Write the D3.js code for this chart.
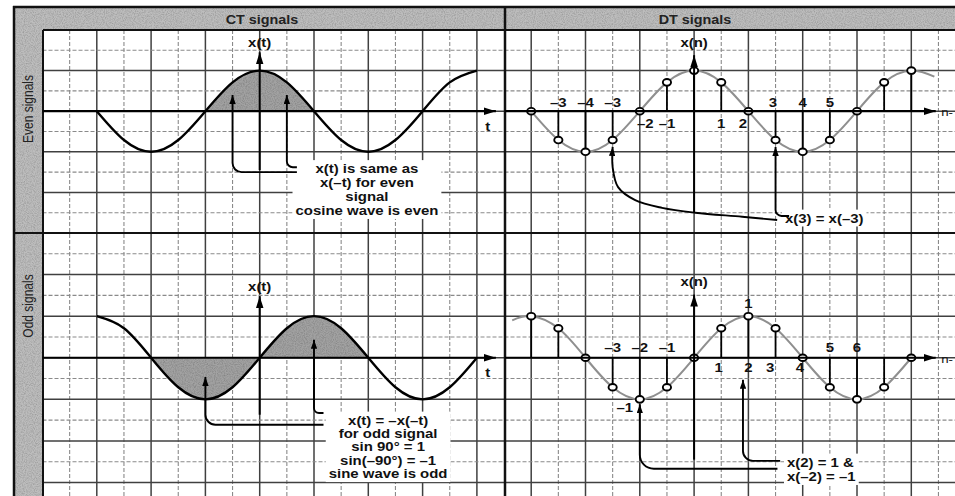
<!DOCTYPE html>
<html>
<head>
<meta charset="utf-8">
<script src="https://cdn.jsdelivr.net/npm/d3@7"></script>
<style>
  body { margin: 0; background: #fff; }
  svg { display: block; font-family: "Liberation Sans", Arial, sans-serif; }
</style>
</head>
<body>
<script>
// Even / odd signals, CT and DT

const panelTitles = ["CT signals", "DT signals"];
const rowTitles = ["Even signals", "Odd signals"];

// samples read at every grid column
const ctT    = [-6, -5, -4, -3, -2, -1, 0, 1, 2, 3, 4, 5, 6, 7, 8];
const ctEven = [0, -0.71, -1, -0.71, 0, 0.71, 1, 0.71, 0, -0.71, -1, -0.71, 0, 0.71, 1];
const ctOdd  = [1, 0.71, 0, -0.71, -1, -0.71, 0, 0.71, 1, 0.71, 0, -0.71, -1, -0.71, 0];
const ctEvenShade = [-2, 2];
const ctOddShade  = [-4, 4];

const dtN    = [-6, -5, -4, -3, -2, -1, 0, 1, 2, 3, 4, 5, 6, 7, 8];
const dtEven = [0, -0.71, -1, -0.71, 0, 0.71, 1, 0.71, 0, -0.71, -1, -0.71, 0, 0.71, 1];
const dtOdd  = [1, 0.71, 0, -0.71, -1, -0.71, 0, 0.71, 1, 0.71, 0, -0.71, -1, -0.71, 0];

// grey envelope curves behind the samples
const dtEvenEnvN = [-6, -5, -4, -3, -2, -1, 0, 1, 2, 3, 4, 5, 6, 7, 8, 8.85];
const dtEvenEnv  = [0, -0.71, -1, -0.71, 0, 0.71, 1, 0.71, 0, -0.71, -1, -0.71, 0, 0.71, 1, 0.85];
const dtOddEnvN  = [-6.7, -6, -5, -4, -3, -2, -1, 0, 1, 2, 3, 4, 5, 6, 7, 8];
const dtOddEnv   = [0.9, 1, 0.71, 0, -0.71, -1, -0.71, 0, 0.71, 1, 0.71, 0, -0.71, -1, -0.71, 0];

// tick labels as printed
const dtEvenLabelN    = [-5, -4, -3, -1.8, -1, 1, 1.8, 2.9, 4, 5];
const dtEvenLabelText = ["\u20133", "\u20134", "\u20133", "\u20132", "\u20131", "1", "2", "3", "4", "5"];
const dtOddLabelN     = [-3, -2, -1, 0.9, 2, 2.8, 3.9, 5, 6];
const dtOddLabelText  = ["\u20133", "\u20132", "\u20131", "1", "2", "3", "4", "5", "6"];

const ctEvenNotes = ["x(t) is same as", "x(\u2013t) for even", "signal", "cosine wave is even"];
const ctOddNotes  = ["x(t) = \u2013x(\u2013t)", "for odd signal", "sin 90\u00b0 = 1", "sin(\u201390\u00b0) = \u20131", "sine wave is odd"];
const dtEvenNotes = ["x(3) = x(\u20133)"];
const dtOddNotes  = ["x(2) = 1 &", "x(\u20132) = \u20131"];

const W = 955, H = 496;
const colW = 27.15, gridLeft = 42.5;
const divX = 505;

const xCT = d3.scaleLinear().domain([-8, 0]).range([gridLeft, gridLeft + 8 * colW]);
const xDT = d3.scaleLinear().domain([-7, 0]).range([gridLeft + 17 * colW, gridLeft + 24 * colW]);
const yTop = d3.scaleLinear().domain([2, -3]).range([30, 233]);
const yBot = d3.scaleLinear().domain([3, -3]).range([233, 482.5]);

const svg = d3.select("body").append("svg")
    .attr("width", W)
    .attr("height", H);

const defs = svg.append("defs");

// grainy grey like the scan
const grain = defs.append("filter").attr("id", "grain")
    .attr("x", 0).attr("y", 0).attr("width", 1).attr("height", 1);
grain.append("feTurbulence").attr("type", "fractalNoise")
    .attr("baseFrequency", 0.9).attr("numOctaves", 2).attr("seed", 3).attr("result", "noise");
grain.append("feColorMatrix").attr("in", "noise").attr("type", "matrix")
    .attr("values", "0.7 0 0 0 0.55  0.7 0 0 0 0.55  0.7 0 0 0 0.55  0 0 0 0 1")
    .attr("result", "gnoise");
grain.append("feBlend").attr("in", "SourceGraphic").attr("in2", "gnoise")
    .attr("mode", "multiply").attr("result", "mix");
grain.append("feComposite").attr("in", "mix").attr("in2", "SourceGraphic").attr("operator", "in");

function arrowMarker(id, len, half) {
  defs.append("marker")
      .attr("id", id)
      .attr("markerUnits", "userSpaceOnUse")
      .attr("viewBox", `0 ${-half} ${len} ${half * 2}`)
      .attr("refX", len).attr("refY", 0)
      .attr("markerWidth", len).attr("markerHeight", half * 2)
      .attr("orient", "auto")
    .append("path")
      .attr("d", `M0,${-half}L${len},0L0,${half}Z`)
      .attr("fill", "#000");
}
arrowMarker("axisHead", 12, 3.8);
arrowMarker("noteHead", 9, 3.2);

// ---- grid ----
const grid = svg.append("g");
const cols = d3.range(1, 34).filter(k => k !== 17);
grid.selectAll(".vline")
    .data(cols)
    .join("line")
    .attr("class", "vline")
    .attr("x1", k => gridLeft + k * colW)
    .attr("x2", k => gridLeft + k * colW)
    .attr("y1", 30).attr("y2", H)
    .attr("stroke", k => k % 2 ? "#8a8a8a" : "#404040")
    .attr("stroke-width", k => k % 2 ? 1.1 : 1.5)
    .attr("stroke-dasharray", k => k % 2 ? "4,2" : null);

const topRows = d3.range(1.5, -2.75, -0.5);
const botRows = d3.range(2.5, -3.75, -0.5);
const hRows = topRows.map(v => ({y: yTop(v), major: Number.isInteger(v)}))
    .concat(botRows.map(v => ({y: yBot(v), major: Number.isInteger(v)})));
grid.selectAll(".hline")
    .data(hRows)
    .join("line")
    .attr("class", "hline")
    .attr("x1", gridLeft).attr("x2", W)
    .attr("y1", d => d.y).attr("y2", d => d.y)
    .attr("stroke", d => d.major ? "#404040" : "#8a8a8a")
    .attr("stroke-width", d => d.major ? 1.5 : 1.1)
    .attr("stroke-dasharray", d => d.major ? null : "4,2");

// ---- header band and side band ----
svg.append("rect").attr("x", 14).attr("y", 7).attr("width", W - 14).attr("height", 23)
    .attr("fill", "#bdbdbd").attr("filter", "url(#grain)");
svg.append("rect").attr("x", 14).attr("y", 7).attr("width", 29).attr("height", H - 7)
    .attr("fill", "#bdbdbd").attr("filter", "url(#grain)");

const frame = svg.append("g").attr("stroke", "#111");
frame.append("line").attr("x1", 14).attr("x2", 14).attr("y1", 6).attr("y2", H).attr("stroke-width", 2.5);
frame.append("line").attr("x1", 13).attr("x2", W).attr("y1", 7).attr("y2", 7).attr("stroke-width", 2.5);
frame.append("line").attr("x1", 43).attr("x2", W).attr("y1", 30).attr("y2", 30).attr("stroke-width", 2);
frame.append("line").attr("x1", 43).attr("x2", 43).attr("y1", 30).attr("y2", H).attr("stroke-width", 2);
frame.append("line").attr("x1", divX).attr("x2", divX).attr("y1", 7).attr("y2", H).attr("stroke-width", 2.5);
frame.append("line").attr("x1", 14).attr("x2", W).attr("y1", 233).attr("y2", 233).attr("stroke-width", 2);

// stretched text, the scan is wider than tall
function label(g, x, y, str, opts = {}) {
  return g.append("text")
      .attr("transform", `translate(${x},${y}) scale(1.15,1)`)
      .attr("text-anchor", opts.anchor || "middle")
      .attr("dy", "0.36em")
      .attr("font-size", opts.size || 13)
      .attr("font-weight", opts.weight || "bold")
      .attr("fill", opts.fill || "#111")
      .text(str);
}

const titles = svg.append("g");
label(titles, 262, 19, panelTitles[0], {size: 12.5, fill: "#222"});
label(titles, 695, 19, panelTitles[1], {size: 12.5, fill: "#222"});
rowTitles.forEach((t, i) => {
  titles.append("text")
      .attr("transform", `translate(28,${i ? 306 : 109}) rotate(-90) scale(1,1.15)`)
      .attr("text-anchor", "middle")
      .attr("dy", "0.36em")
      .attr("font-size", 12)
      .attr("fill", "#222")
      .text(t);
});

// ---- CT panels ----
function ctPanel(y, values, shade) {
  const g = svg.append("g");
  const pts = d3.zip(ctT, values);
  const area = d3.area()
      .x(d => xCT(d[0]))
      .y0(y(0))
      .y1(d => y(d[1]))
      .curve(d3.curveNatural);
  g.append("path")
      .datum(pts.filter(d => d[0] >= shade[0] && d[0] <= shade[1]))
      .attr("d", area)
      .attr("fill", "#a2a2a2")
      .attr("filter", "url(#grain)");
  const line = d3.line()
      .x(d => xCT(d[0]))
      .y(d => y(d[1]))
      .curve(d3.curveNatural);
  g.append("path")
      .datum(pts)
      .attr("d", line)
      .attr("fill", "none")
      .attr("stroke", "#000")
      .attr("stroke-width", 2.4);
  return g;
}

// ---- DT panels ----
function dtPanel(y, values, envN, env) {
  const g = svg.append("g");
  const line = d3.line()
      .x(d => xDT(d[0]))
      .y(d => y(d[1]))
      .curve(d3.curveNatural);
  g.append("path")
      .datum(d3.zip(envN, env))
      .attr("d", line)
      .attr("fill", "none")
      .attr("stroke", "#8f8f8f")
      .attr("stroke-width", 2);
  const pts = d3.zip(dtN, values);
  g.selectAll(".stem")
      .data(pts.filter(d => d[1] !== 0))
      .join("line")
      .attr("class", "stem")
      .attr("x1", d => xDT(d[0])).attr("x2", d => xDT(d[0]))
      .attr("y1", y(0)).attr("y2", d => y(d[1]))
      .attr("stroke", "#000")
      .attr("stroke-width", 1.8);
  return {g, pts};
}

function dtDots(g, y, pts) {
  g.selectAll(".dot")
      .data(pts)
      .join("ellipse")
      .attr("class", "dot")
      .attr("cx", d => xDT(d[0]))
      .attr("cy", d => y(d[1]))
      .attr("rx", 4.1).attr("ry", 3.3)
      .attr("fill", "#fff")
      .attr("stroke", "#000")
      .attr("stroke-width", 1.9);
}

function axes(y, ctTop, ctBottom, dtTop, dtBottom) {
  const g = svg.append("g").attr("stroke", "#000");
  g.append("line")
      .attr("x1", gridLeft).attr("x2", xCT(8.7))
      .attr("y1", y(0)).attr("y2", y(0))
      .attr("stroke-width", 2.2)
      .attr("marker-end", "url(#axisHead)");
  g.append("line")
      .attr("x1", divX).attr("x2", xDT(8.9))
      .attr("y1", y(0)).attr("y2", y(0))
      .attr("stroke-width", 2.2)
      .attr("marker-end", "url(#axisHead)");
  g.append("line")
      .attr("x1", xCT(0)).attr("x2", xCT(0))
      .attr("y1", y(ctBottom)).attr("y2", y(ctTop))
      .attr("stroke-width", 2)
      .attr("marker-end", "url(#axisHead)");
  g.append("line")
      .attr("x1", xDT(0)).attr("x2", xDT(0))
      .attr("y1", y(dtBottom)).attr("y2", y(dtTop))
      .attr("stroke-width", 2)
      .attr("marker-end", "url(#axisHead)");
  const t = svg.append("g");
  label(t, xCT(0), y(ctTop) - 10, "x(t)");
  label(t, xDT(0), y(dtTop) - 13, "x(n)");
  label(t, xCT(8.4), y(0) + 15, "t");
  label(t, xDT(9.1), y(0) + 1, "n-", {anchor: "start", weight: "normal", size: 11.5});
}

function elbow(s, c, tip, r) {
  const p = d3.path();
  p.moveTo(s[0], s[1]);
  p.arcTo(c[0], c[1], tip[0], tip[1], r);
  p.lineTo(tip[0], tip[1]);
  return p.toString();
}

function noteArrow(d) {
  svg.append("path")
      .attr("d", d)
      .attr("fill", "none")
      .attr("stroke", "#000")
      .attr("stroke-width", 1.9)
      .attr("marker-end", "url(#noteHead)");
}

function noteBlock(x, y, lines, step, anchor) {
  const g = svg.append("g");
  lines.forEach((s, i) => label(g, x, y + i * step, s, {anchor}));
  const b = g.node().getBBox();
  g.insert("rect", "text")
      .attr("x", b.x - 3).attr("y", b.y - 1)
      .attr("width", b.width + 6).attr("height", b.height + 2)
      .attr("fill", "#fff");
  return g;
}

function dtLabels(y, values, ns, texts, above, below) {
  const g = svg.append("g");
  ns.forEach((n, i) => {
    const v = values[dtN.indexOf(Math.round(n))];
    label(g, xDT(n), y(0) + (v < 0 ? above : below), texts[i]);
  });
}

// top row: even
ctPanel(yTop, ctEven, ctEvenShade);
const even = dtPanel(yTop, dtEven, dtEvenEnvN, dtEvenEnv);
axes(yTop, 1.45, -1.45, 1.38, -2.5);
dtDots(even.g, yTop, even.pts);
dtLabels(yTop, dtEven, dtEvenLabelN, dtEvenLabelText, -9, 12);

noteBlock(xCT(3.95), 168.5, ctEvenNotes, 14, "middle");
noteArrow(elbow([xCT(1.37), yTop(-1.5)], [xCT(-1), yTop(-1.5)], [xCT(-1), yTop(0.4)], 9));
noteArrow(elbow([xCT(1.37), yTop(-1.38)], [xCT(1), yTop(-1.38)], [xCT(1), yTop(0.4)], 6));

noteBlock(785, 218, dtEvenNotes, 14, "start");
const sweep = [[3.06, -2.68], [1.77, -2.6], [0.04, -2.5], [-1.18, -2.38], [-2.17, -2.19], [-2.8, -1.87], [-3, -1.38], [-3, -0.88]];
noteArrow(d3.line().x(d => xDT(d[0])).y(d => yTop(d[1])).curve(d3.curveCatmullRom)(sweep));
noteArrow(elbow([xDT(3.5), yTop(-2.58)], [xDT(3), yTop(-2.58)], [xDT(3), yTop(-0.88)], 6));

// bottom row: odd
ctPanel(yBot, ctOdd, ctOddShade);
const odd = dtPanel(yBot, dtOdd, dtOddEnvN, dtOddEnv);
axes(yBot, 1.48, -1.37, 1.52, -2.45);
dtDots(odd.g, yBot, odd.pts);
dtLabels(yBot, dtOdd, dtOddLabelN, dtOddLabelText, -10, 10);
label(svg, xDT(2), yBot(1.3), "1");
label(svg, xDT(-2.55), yBot(-1.18), "\u20131");

noteBlock(xCT(4.73), 420, ctOddNotes, 13.4, "middle");
noteArrow(elbow([xCT(2.35), yBot(-1.61)], [xCT(-2), yBot(-1.61)], [xCT(-2), yBot(-0.46)], 10));
noteArrow(elbow([xCT(2.35), yBot(-1.33)], [xCT(2), yBot(-1.33)], [xCT(2), yBot(0.43)], 5));

noteBlock(787, 462, dtOddNotes, 14.5, "start");
noteArrow(elbow([xDT(3.07), yBot(-2.67)], [xDT(-2), yBot(-2.67)], [xDT(-2), yBot(-1.12)], 14));
noteArrow(elbow([xDT(3.17), yBot(-2.48)], [xDT(1.8), yBot(-2.48)], [xDT(1.8), yBot(-0.53)], 10));
</script>
</body>
</html>
